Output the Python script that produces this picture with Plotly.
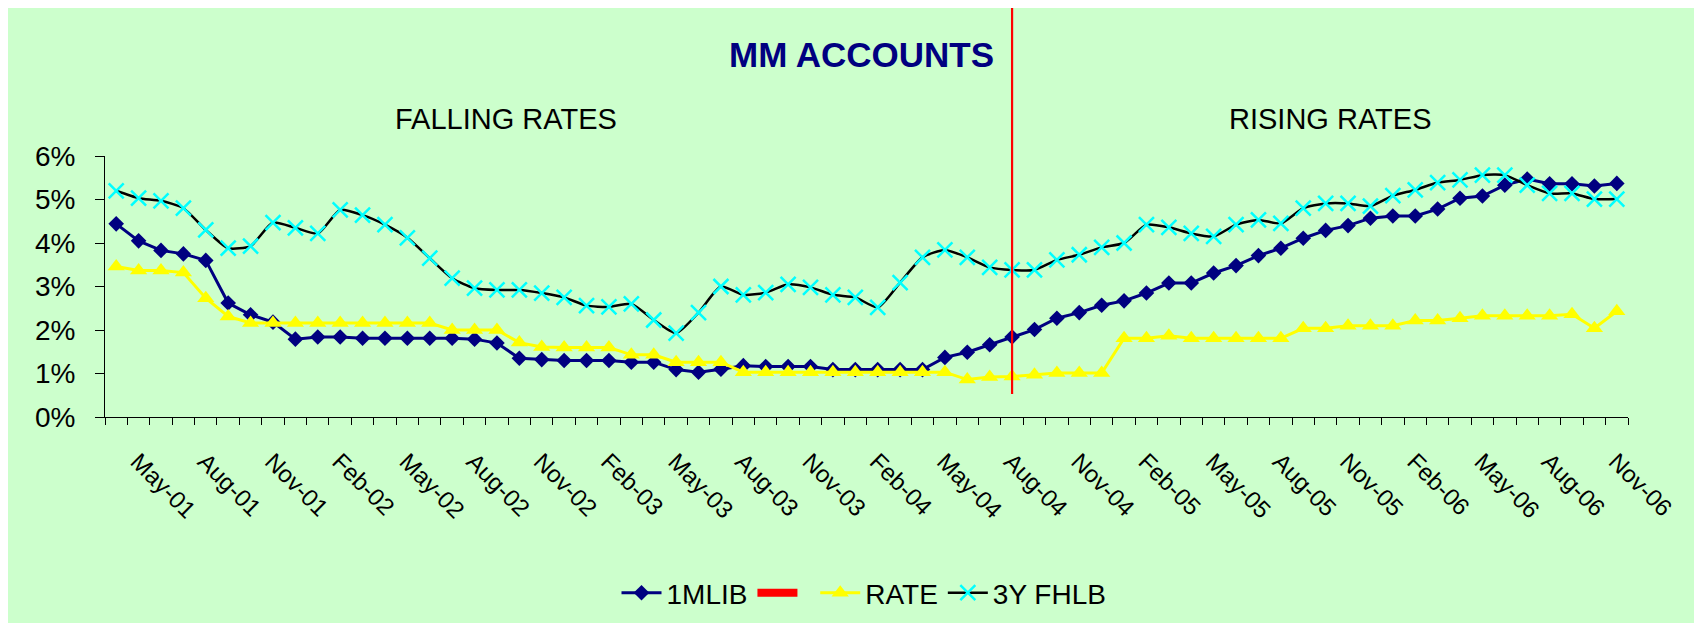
import plotly.graph_objects as go

months = [
    "Apr-01", "May-01", "Jun-01", "Jul-01", "Aug-01", "Sep-01", "Oct-01", "Nov-01", "Dec-01",
    "Jan-02", "Feb-02", "Mar-02", "Apr-02", "May-02", "Jun-02", "Jul-02", "Aug-02", "Sep-02", "Oct-02", "Nov-02", "Dec-02",
    "Jan-03", "Feb-03", "Mar-03", "Apr-03", "May-03", "Jun-03", "Jul-03", "Aug-03", "Sep-03", "Oct-03", "Nov-03", "Dec-03",
    "Jan-04", "Feb-04", "Mar-04", "Apr-04", "May-04", "Jun-04", "Jul-04", "Aug-04", "Sep-04", "Oct-04", "Nov-04", "Dec-04",
    "Jan-05", "Feb-05", "Mar-05", "Apr-05", "May-05", "Jun-05", "Jul-05", "Aug-05", "Sep-05", "Oct-05", "Nov-05", "Dec-05",
    "Jan-06", "Feb-06", "Mar-06", "Apr-06", "May-06", "Jun-06", "Jul-06", "Aug-06", "Sep-06", "Oct-06", "Nov-06",
]

lib_1m = [
    4.44, 4.05, 3.83, 3.75, 3.60, 2.62, 2.35, 2.18, 1.79, 1.84, 1.84, 1.81, 1.81, 1.81, 1.81, 1.81, 1.79, 1.70, 1.35, 1.32,
    1.30, 1.30, 1.30, 1.26, 1.26, 1.09, 1.03, 1.10, 1.18, 1.16, 1.16, 1.16, 1.09, 1.09, 1.09, 1.09, 1.09, 1.37, 1.49, 1.66,
    1.84, 2.01, 2.27, 2.40, 2.57,
    2.67, 2.85, 3.08, 3.08, 3.31, 3.48, 3.71, 3.88, 4.11, 4.29, 4.40, 4.57, 4.62, 4.62, 4.78, 5.03, 5.08, 5.33, 5.47, 5.36,
    5.36, 5.31, 5.37,
]

rate = [
    3.46, 3.37, 3.37, 3.32, 2.73, 2.31, 2.16, 2.16, 2.16, 2.16, 2.16, 2.16, 2.16, 2.16, 2.16, 2.00, 2.00, 2.00, 1.71, 1.61,
    1.60, 1.60, 1.60, 1.43, 1.43, 1.26, 1.26, 1.26, 1.03, 1.03, 1.03, 1.03, 1.03, 1.03, 1.03, 1.03, 1.03, 1.03, 0.86, 0.92,
    0.93, 0.97, 1.01, 1.01, 1.01,
    1.81, 1.81, 1.87, 1.81, 1.81, 1.81, 1.81, 1.81, 2.04, 2.04, 2.10, 2.10, 2.10, 2.22, 2.22, 2.27, 2.33, 2.33, 2.33, 2.33,
    2.36, 2.04, 2.43,
]

fhlb_3y = [
    5.20, 5.03, 4.97, 4.80, 4.30, 3.88, 3.93, 4.47, 4.35, 4.22, 4.76, 4.64, 4.42, 4.12, 3.65, 3.19, 2.96, 2.92, 2.92, 2.85,
    2.75, 2.56, 2.53, 2.60, 2.23, 1.93, 2.40, 3.00, 2.81, 2.86, 3.05, 2.98, 2.81, 2.75, 2.52, 3.09, 3.67, 3.84, 3.67, 3.44,
    3.38, 3.38, 3.61, 3.73, 3.90,
    4.00, 4.42, 4.36, 4.22, 4.15, 4.42, 4.53, 4.45, 4.80, 4.91, 4.91, 4.85, 5.09, 5.22, 5.39, 5.45, 5.56, 5.56, 5.33, 5.14,
    5.14, 5.01, 5.01,
]

y_ticks = [0, 1, 2, 3, 4, 5, 6]
label_every = 3
label_offset = 1
divider_month = "Aug-04"

tick_text = [m if (i % label_every) == label_offset else "" for i, m in enumerate(months)]

# page is rendered with the default 8px body margin
OFF = 8
W, H = 1702, 623
ML = 105 - OFF
MT = 156 - OFF
MR = W - (1628 - OFF)
MB = H - (417 - OFF)
PW = W - ML - MR
PH = H - MT - MB


def px_x(px):
    return (px - OFF - ML) / PW


def px_y(py):
    return (H - MB - (py - OFF)) / PH


FONT = "Liberation Sans, Arial, sans-serif"
GREEN = "#CCFFCC"
NAVY = "#000080"

fig = go.Figure()

fig.add_trace(go.Scatter(
    x=months, y=lib_1m, name="1MLIB", mode="lines+markers",
    line=dict(color=NAVY, width=3),
    marker=dict(symbol="diamond", size=12, color=NAVY),
    legendrank=1,
))
fig.add_trace(go.Scatter(
    x=[None], y=[None], name=" ", mode="lines",
    line=dict(color="#FF0000", width=8),
    legendrank=2, hoverinfo="skip",
))
fig.add_trace(go.Scatter(
    x=months, y=rate, name="RATE", mode="lines+markers",
    line=dict(color="#FFFF00", width=3),
    marker=dict(symbol="triangle-up", size=15, color="#FFFF00"),
    legendrank=3,
))
fig.add_trace(go.Scatter(
    x=months, y=fhlb_3y, name="3Y FHLB", mode="lines+markers",
    line=dict(color="black", width=2.5, shape="spline", smoothing=0.6),
    marker=dict(symbol="x-thin", size=15, line=dict(color="#00FFFF", width=2.5), color="#00FFFF"),
    legendrank=4,
))

shapes = [
    dict(type="line", xref="x", yref="paper", x0=divider_month, x1=divider_month,
         y0=px_y(394), y1=px_y(7), line=dict(color="#FF0000", width=2.2)),
]

annotations = [
    dict(text="<b>MM ACCOUNTS</b>", xref="paper", yref="paper", x=px_x(861), y=px_y(54),
         xanchor="center", yanchor="middle", showarrow=False,
         font=dict(family=FONT, size=35, color=NAVY)),
    dict(text="FALLING RATES", xref="paper", yref="paper", x=px_x(506), y=px_y(119),
         xanchor="center", yanchor="middle", showarrow=False,
         font=dict(family=FONT, size=29, color="black")),
    dict(text="RISING RATES", xref="paper", yref="paper", x=px_x(1330), y=px_y(119),
         xanchor="center", yanchor="middle", showarrow=False,
         font=dict(family=FONT, size=29, color="black")),
]

fig.update_layout(
    width=W, height=H,
    margin=dict(l=ML, r=MR, t=MT, b=MB, autoexpand=False),
    paper_bgcolor=GREEN, plot_bgcolor=GREEN,
    font=dict(family=FONT, color="black"),
    shapes=shapes, annotations=annotations,
    showlegend=True,
    legend=dict(orientation="h", x=px_x(864), y=px_y(593), xanchor="center", yanchor="middle",
                bgcolor="rgba(0,0,0,0)", font=dict(family=FONT, size=28, color="black"),
                itemwidth=40, tracegroupgap=0),
    xaxis=dict(
        type="category", categoryorder="array", categoryarray=months,
        range=[-0.5, len(months) - 0.5],
        tickmode="array", tickvals=months, ticktext=tick_text, tickson="boundaries",
        tickangle=45, ticks="outside", ticklen=7, tickcolor="black", tickwidth=1,
        showline=True, linecolor="black", linewidth=1, showgrid=False, zeroline=False,
        tickfont=dict(family=FONT, size=24, color="black"), ticklabelstandoff=20,
        ticklabelshift=-1,
        fixedrange=True,
    ),
    yaxis=dict(
        range=[0, 6], tickmode="array", tickvals=y_ticks, ticktext=[f"{v}%" for v in y_ticks],
        ticks="outside", ticklen=9, tickcolor="black", tickwidth=1,
        showline=True, linecolor="black", linewidth=1, showgrid=False, zeroline=False,
        tickfont=dict(family=FONT, size=28, color="black"), ticklabelstandoff=14,
        fixedrange=True,
    ),
)

fig.write_html("out.html", config={"displayModeBar": False})
